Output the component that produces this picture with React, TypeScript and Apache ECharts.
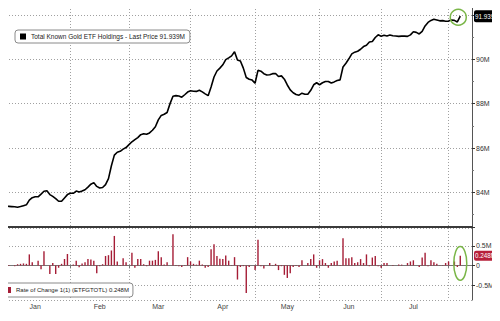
import React, { useEffect, useRef } from "react";
import * as echarts from "echarts";

const seriesName = "Total Known Gold ETF Holdings";
const rocName = "Rate of Change 1(1) (ETFGTOTL)";
const monthNames = ["Jan", "Feb", "Mar", "Apr", "May", "Jun", "Jul", "Aug", "Sep", "Oct", "Nov", "Dec"];
const yearLabel = "2025";

// Holdings, millions of troy oz, one per business day from 2024-12-31
const holdings = [
  83.39, 83.38, 83.38, 83.37, 83.36, 83.35, 83.33, 83.36, 83.4, 83.44,
  83.65, 83.76, 83.8, 83.8, 83.92, 84.05, 84.07, 83.9, 83.82, 83.72,
  83.6, 83.6, 83.75, 83.9, 83.96, 83.96, 84.06, 84.02, 84.06, 84.12,
  84.24, 84.37, 84.44, 84.27, 84.2, 84.22, 84.35, 84.62, 85.2, 85.68,
  85.81, 85.85, 85.95, 86.02, 86.15, 86.28, 86.38, 86.47, 86.6, 86.64,
  86.62, 86.68, 86.8, 86.96, 87.27, 87.47, 87.52, 87.6, 88.0, 88.33,
  88.36, 88.34, 88.29, 88.4, 88.52, 88.58, 88.56, 88.55, 88.6, 88.53,
  88.44, 88.36, 88.75, 89.2, 89.47, 89.6, 89.75, 89.98, 90.06, 90.15,
  90.34, 89.97, 89.92, 89.6, 89.18, 89.1, 89.06, 88.92, 89.5, 89.46,
  89.35, 89.29, 89.3, 89.35, 89.36, 89.22, 89.25, 89.1, 88.84, 88.62,
  88.49, 88.41, 88.38, 88.47, 88.42, 88.42, 88.6, 88.85, 88.94, 88.85,
  88.94, 89.0, 89.0, 88.93, 88.98, 89.04, 89.07, 89.65, 89.82, 90.02,
  90.24, 90.32, 90.36, 90.45, 90.57, 90.63, 90.78, 90.8, 90.98, 91.1,
  91.04, 91.08, 91.05, 91.09, 91.06, 91.05, 91.03, 91.04, 91.04, 91.03,
  91.1, 91.24, 91.21, 91.14, 91.26, 91.5, 91.66, 91.75, 91.8, 91.77,
  91.73, 91.74, 91.71, 91.72, 91.77, 91.75, 91.68, 91.939,
];

// Daily rate of change, millions
const rateOfChange = [
  0.02, 0.0, -0.01, 0.01, 0.0, -0.02, 0.03, 0.04, 0.05, 0.04,
  0.28, 0.08, 0.0, 0.12, -0.1, 0.36, 0.0, -0.22, 0.06, -0.22,
  -0.06, 0.04, 0.16, 0.29, 0.0, 0.02, 0.12, -0.05, 0.05, 0.08,
  0.16, 0.15, 0.12, -0.2, -0.02, 0.03, 0.24, 0.26, 0.38, 0.75,
  0.1, 0.01, 0.18, 0.08, 0.0, 0.32, -0.06, 0.16, 0.16, 0.03,
  -0.02, 0.12, 0.12, 0.14, 0.36, 0.21, 0.02, 0.08, 0.0, 0.79,
  0.01, -0.02, -0.04, 0.01, 0.21, 0.1, 0.04, 0.02, 0.12, 0.02,
  -0.06, -0.04, 0.41, 0.54, 0.24, 0.17, 0.16, 0.25, 0.12, 0.01,
  0.21, -0.36, -0.04, -0.02, -0.7, -0.04, 0.0, -0.12, 0.65, -0.02,
  -0.08, 0.0, 0.06, 0.01, 0.04, -0.12, -0.02, -0.24, -0.32, -0.2,
  -0.04, 0.01, -0.04, 0.13, 0.0, 0.06, 0.16, 0.28, -0.06, 0.13,
  0.16, 0.06, -0.06, 0.06, 0.1, 0.12, 0.01, 0.69, 0.18, 0.18,
  0.21, 0.06, 0.08, 0.16, 0.06, 0.28, -0.02, 0.2, 0.24, -0.02,
  -0.06, 0.06, 0.06, 0.0, 0.01, 0.0, 0.02, 0.02, 0.0, 0.06,
  0.1, 0.13, 0.0, -0.04, 0.2, 0.32, -0.02, 0.13, 0.08, 0.04,
  -0.01, 0.01, 0.06, 0.1, 0.0, 0.1, -0.04, 0.248,
];

const startDate = "2024-12-31";
const endDate = "2025-08-13";

function businessDays(from: string, to: string): string[] {
  const out: string[] = [];
  const d = new Date(from + "T00:00:00Z");
  const end = new Date(to + "T00:00:00Z");
  while (d.getTime() <= end.getTime()) {
    const wd = d.getUTCDay();
    if (wd !== 0 && wd !== 6) out.push(d.toISOString().slice(0, 10));
    d.setUTCDate(d.getUTCDate() + 1);
  }
  return out;
}

export default function App() {
  const ref = useRef<HTMLDivElement>(null);
  useEffect(() => {
    if (!ref.current) return;
    const chart = echarts.init(ref.current, undefined, { renderer: "svg" });
    const dates = businessDays(startDate, endDate);
    const monthStart = new Set<number>();
    const monthMid = new Map<number, string>();
    let s = 0;
    for (let i = 1; i <= dates.length; i++) {
      if (i === dates.length || dates[i].slice(0, 7) !== dates[i - 1].slice(0, 7)) {
        const count = i - s;
        if (count >= 15) monthMid.set(s + Math.floor(count / 2), monthNames[parseInt(dates[s].slice(5, 7), 10) - 1]);
        if (i < dates.length) monthStart.add(i);
        s = i;
      }
    }
    const lastH = holdings[holdings.length - 1];
    const lastR = rateOfChange[rateOfChange.length - 1];
    const gridColor = "#a0a0a0";
    const font = "Liberation Sans, Arial, sans-serif";
    const split = {
      show: true,
      interval: (i: number) => monthStart.has(i),
      lineStyle: { color: gridColor, type: [1, 2] as any, width: 1 },
    };
    chart.setOption({
      animation: false,
      backgroundColor: "#fff",
      textStyle: { fontFamily: font },
      grid: [
        { left: 0, right: 28, top: 0, height: 227 },
        { left: 0, right: 28, top: 228, height: 77 },
      ],
      legend: [
        {
          data: [seriesName],
          left: 15,
          top: 30,
          icon: "rect",
          itemWidth: 6,
          itemHeight: 6,
          itemGap: 4,
          padding: [3, 5, 3, 5],
          backgroundColor: "#fff",
          borderColor: "#8a8a8a",
          borderWidth: 1,
          borderRadius: 3,
          formatter: (n: string) => `${n} - Last Price ${lastH}M`,
          textStyle: { fontSize: 6.5, color: "#222", fontFamily: font },
        },
        {
          data: [rocName],
          left: 0,
          top: 283,
          icon: "rect",
          itemWidth: 6,
          itemHeight: 6,
          padding: [4, 4, 4, 5],
          backgroundColor: "#fff",
          borderColor: "#8a8a8a",
          borderWidth: 1,
          borderRadius: 3,
          formatter: (n: string) => `${n} ${lastR}M`,
          textStyle: { fontSize: 6, color: "#222", fontFamily: font },
        },
      ],
      xAxis: [
        {
          type: "category",
          gridIndex: 0,
          data: dates,
          boundaryGap: false,
          axisLine: { show: true, lineStyle: { color: "#3a3a3a", width: 2 } },
          axisTick: { show: false },
          axisLabel: { show: false },
          splitLine: split,
        },
        {
          type: "category",
          gridIndex: 1,
          data: dates,
          boundaryGap: false,
          axisLine: { show: true, lineStyle: { color: "#777", width: 1 } },
          axisTick: { show: true, interval: (i: number) => monthStart.has(i), length: 3, lineStyle: { color: "#777" } },
          axisLabel: {
            show: true,
            interval: (i: number) => monthMid.has(i),
            formatter: (_v: string, i: number) => monthMid.get(i) || "",
            fontSize: 7,
            color: "#444",
            margin: 3,
          },
          splitLine: split,
          name: yearLabel,
          nameLocation: "middle",
          nameGap: 13,
          nameTextStyle: { fontSize: 7, color: "#444" },
        },
      ],
      yAxis: [
        {
          type: "value",
          gridIndex: 0,
          position: "right",
          min: 82.44,
          max: 92.67,
          splitNumber: 5,
          axisLine: { show: true, lineStyle: { color: "#555" } },
          axisTick: { show: true, length: 3, lineStyle: { color: "#333" } },
          minorTick: { show: true, splitNumber: 2, length: 2, lineStyle: { color: "#777" } },
          axisLabel: {
            fontSize: 7,
            color: "#333",
            margin: 4,
            showMinLabel: false,
            showMaxLabel: false,
            formatter: (v: number) => (v >= 92 ? "" : `${v}M`),
          },
          splitLine: { show: true, lineStyle: { color: gridColor, type: [1, 2] as any } },
        },
        {
          type: "value",
          gridIndex: 1,
          position: "right",
          min: -0.881,
          max: 0.952,
          splitNumber: 3,
          axisLine: { show: true, lineStyle: { color: "#555" } },
          axisTick: { show: true, length: 3, lineStyle: { color: "#333" } },
          axisLabel: {
            fontSize: 7,
            color: "#333",
            margin: 4,
            showMinLabel: false,
            showMaxLabel: false,
            formatter: (v: number) => (v === 0 ? "0" : `${v}M`),
          },
          splitLine: { show: true, lineStyle: { color: gridColor, type: [1, 2] as any } },
        },
      ],
      series: [
        {
          name: seriesName,
          type: "line",
          xAxisIndex: 0,
          yAxisIndex: 0,
          data: holdings,
          showSymbol: false,
          color: "#000",
          lineStyle: { color: "#000", width: 1.6 },
          z: 5,
        },
        {
          name: rocName,
          type: "bar",
          xAxisIndex: 1,
          yAxisIndex: 1,
          data: rateOfChange,
          barWidth: 1.4,
          color: "#a51d36",
          itemStyle: { color: "#a51d36" },
        },
      ],
    });

    const li = holdings.length - 1;
    const pTop = chart.convertToPixel({ xAxisIndex: 0, yAxisIndex: 0 }, [li, lastH]) as number[];
    const pBot = chart.convertToPixel({ xAxisIndex: 1, yAxisIndex: 1 }, [li, lastR]) as number[];
    const eTop = chart.convertToPixel({ xAxisIndex: 1, yAxisIndex: 1 }, [li, 0.48]) as number[];
    const eBot = chart.convertToPixel({ xAxisIndex: 1, yAxisIndex: 1 }, [li, -0.38]) as number[];
    const axisX = chart.convertToPixel({ xAxisIndex: 0 }, dates.length - 1) as number;
    const green = "#7ab648";
    chart.setOption({
      graphic: [
        {
          type: "group",
          children: [
            { type: "rect", shape: { x: axisX + 2, y: pTop[1] - 6, width: 32, height: 12, r: 2 }, style: { fill: "#000" }, z: 100 },
            {
              type: "text",
              x: axisX + 3,
              y: pTop[1],
              style: { text: `${lastH}M`, fill: "#fff", fontSize: 6.3, fontFamily: font, verticalAlign: "middle" },
              z: 101,
            },
            { type: "rect", shape: { x: axisX + 2, y: pBot[1] - 5, width: 32, height: 10, r: 2 }, style: { fill: "#b7203a" }, z: 100 },
            {
              type: "text",
              x: axisX + 3,
              y: pBot[1],
              style: { text: `${lastR}M`, fill: "#fff", fontSize: 6.3, fontFamily: font, verticalAlign: "middle" },
              z: 101,
            },
            {
              type: "circle",
              shape: { cx: pTop[0] - 2, cy: pTop[1] + 1, r: 8 },
              style: { fill: "none", stroke: green, lineWidth: 1.5 },
              z: 100,
            },
            {
              type: "ellipse",
              shape: { cx: eTop[0], cy: (eTop[1] + eBot[1]) / 2, rx: 6.5, ry: (eBot[1] - eTop[1]) / 2 },
              style: { fill: "none", stroke: green, lineWidth: 1.5 },
              z: 100,
            },
          ],
        },
      ],
    });
    return () => chart.dispose();
  }, []);
  return <div ref={ref} style={{ width: 500, height: 321, margin: -8 }} />;
}
